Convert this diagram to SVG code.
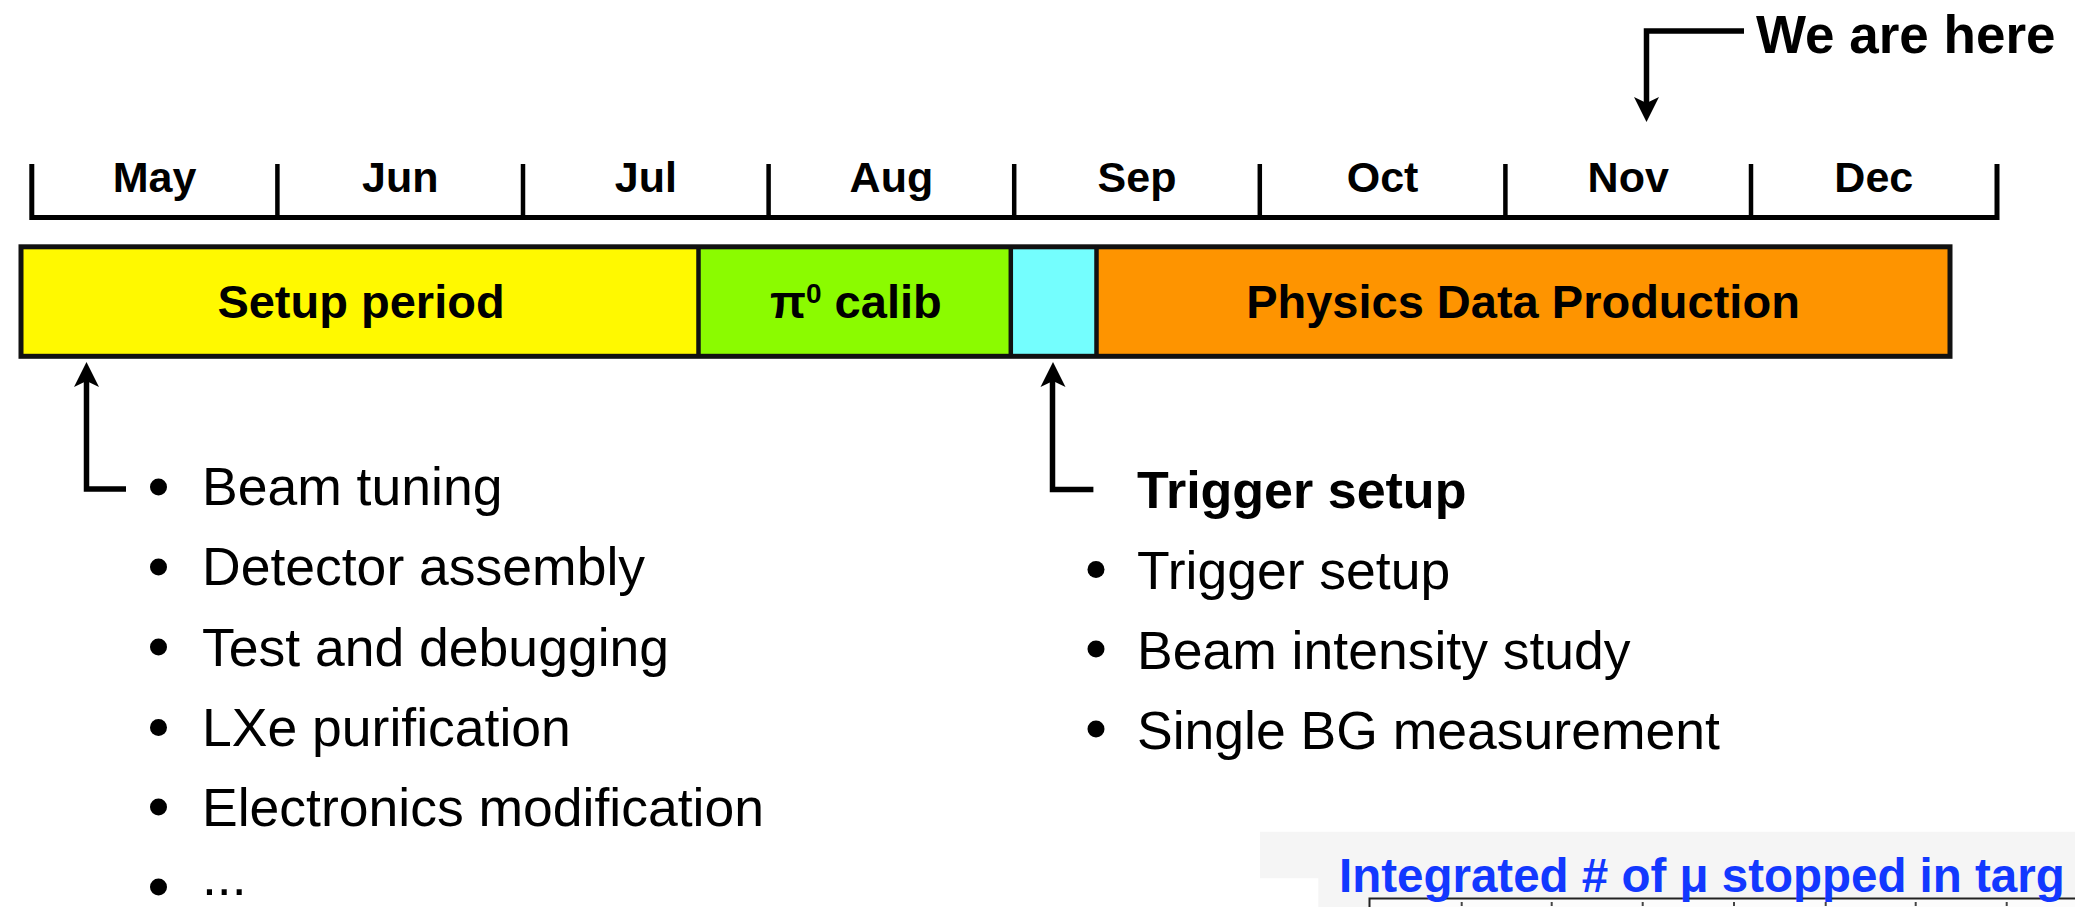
<svg xmlns="http://www.w3.org/2000/svg" width="2075" height="907" viewBox="0 0 2075 907">
<style>
text{font-family:"Liberation Sans",Arial,Helvetica,sans-serif;fill:#000}
.b{font-weight:bold}
.mon{font-size:43px;font-weight:bold;text-anchor:middle}
.bar{font-size:47px;font-weight:bold;text-anchor:middle}
.li{font-size:53.5px}
.ln{fill:none;stroke:#000;stroke-width:5.5}
.tick{stroke:#000;stroke-width:4.5}
.seg{stroke:#111;stroke-width:5}
.div{stroke:#111;stroke-width:4.5}
</style>
<rect width="2075" height="907" fill="#fff"/>

<g id="timeline-axis">
<path d="M31.8,164 V217.5 H1997 V164" fill="none" stroke="#000" stroke-width="5"/>
<line class="tick" x1="277.4" y1="164" x2="277.4" y2="217"/>
<line class="tick" x1="523" y1="164" x2="523" y2="217"/>
<line class="tick" x1="768.6" y1="164" x2="768.6" y2="217"/>
<line class="tick" x1="1014.2" y1="164" x2="1014.2" y2="217"/>
<line class="tick" x1="1259.8" y1="164" x2="1259.8" y2="217"/>
<line class="tick" x1="1505.4" y1="164" x2="1505.4" y2="217"/>
<line class="tick" x1="1751" y1="164" x2="1751" y2="217"/>
<text class="mon" x="154.6" y="192">May</text>
<text class="mon" x="400.2" y="192">Jun</text>
<text class="mon" x="645.8" y="192">Jul</text>
<text class="mon" x="891.4" y="192">Aug</text>
<text class="mon" x="1137" y="192">Sep</text>
<text class="mon" x="1382.6" y="192">Oct</text>
<text class="mon" x="1628.2" y="192">Nov</text>
<text class="mon" x="1873.8" y="192">Dec</text>
</g>

<g id="we-are-here">
<text class="b" x="1756" y="53" font-size="53">We are here</text>
</g>

<g id="setup-period">
<rect x="21" y="246.8" width="677.5" height="109.5" fill="#fff900"/>
<text class="bar" x="361" y="318">Setup period</text>
</g>
<g id="pi0-calib">
<rect x="698.5" y="246.8" width="312.3" height="109.5" fill="#8bfb00"/>
<text class="b" x="770" y="318" font-size="47">π<tspan font-size="28" dy="-15.5">0</tspan><tspan dy="15.5"> calib</tspan></text>
</g>
<g id="trigger-slot">
<rect x="1010.8" y="246.8" width="85.7" height="109.5" fill="#74fefe"/>
</g>
<g id="physics-data-production">
<rect x="1096.5" y="246.8" width="853.5" height="109.5" fill="#fe9400"/>
<text class="bar" x="1523" y="318">Physics Data Production</text>
</g>
<g id="bar-outline">
<rect class="seg" x="21" y="246.8" width="1929" height="109.5" fill="none"/>
<line class="div" x1="698.5" y1="247" x2="698.5" y2="356"/>
<line class="div" x1="1010.8" y1="247" x2="1010.8" y2="356"/>
<line class="div" x1="1096.5" y1="247" x2="1096.5" y2="356"/>
</g>

<g id="connectors">
<path class="ln" d="M1744,31 H1646.5 V103"/>
<polygon points="1646.5,122 1634,97 1646.5,103 1659,97" fill="#000"/>
<path class="ln" d="M126,489 H86.5 V381"/>
<polygon points="86.5,362 74,387 86.5,381 99,387" fill="#000"/>
<path class="ln" d="M1093.4,489.5 H1052.5 V381"/>
<polygon points="1053,362 1040.5,387 1053,381 1065.5,387" fill="#000"/>
</g>

<g id="setup-list">
<circle cx="158.5" cy="487" r="8.5"/>
<circle cx="158.5" cy="567" r="8.5"/>
<circle cx="158.5" cy="647" r="8.5"/>
<circle cx="158.5" cy="727.5" r="8.5"/>
<circle cx="158.5" cy="807" r="8.5"/>
<circle cx="158.5" cy="887" r="8.5"/>
<text class="li" x="202" y="505">Beam tuning</text>
<text class="li" x="202" y="585">Detector assembly</text>
<text class="li" x="202" y="665.5">Test and debugging</text>
<text class="li" x="202" y="746">LXe purification</text>
<text class="li" x="202" y="826">Electronics modification</text>
<text class="li" x="202" y="895">...</text>
</g>

<g id="trigger-list">
<text class="b" x="1137" y="508" font-size="52">Trigger setup</text>
<circle cx="1096" cy="569.5" r="8.5"/>
<circle cx="1096" cy="649" r="8.5"/>
<circle cx="1096" cy="729" r="8.5"/>
<text class="li" x="1137" y="588.5">Trigger setup</text>
<text class="li" x="1137" y="669">Beam intensity study</text>
<text class="li" x="1137" y="748.5">Single BG measurement</text>
</g>

<g id="plot-excerpt">
<path d="M1260,831.7 H2075 V907 H1318.3 V878.3 H1260 Z" fill="#f5f5f5"/>
<rect x="1369.5" y="898.5" width="720" height="20" fill="#fcfcfc" stroke="#222" stroke-width="2"/>
<g stroke="#444" stroke-width="2">
<line x1="1461.7" y1="902" x2="1461.7" y2="906"/>
<line x1="1551.7" y1="902" x2="1551.7" y2="906"/>
<line x1="1642.7" y1="902" x2="1642.7" y2="906"/>
<line x1="1734" y1="902" x2="1734" y2="906"/>
<line x1="1825.7" y1="902" x2="1825.7" y2="906"/>
<line x1="1915.7" y1="902" x2="1915.7" y2="906"/>
<line x1="2006.7" y1="902" x2="2006.7" y2="906"/>
</g>
<text class="b" x="1339" y="891.5" font-size="47.5" style="fill:#1238ff">Integrated # of μ stopped in targ</text>
</g>
</svg>
